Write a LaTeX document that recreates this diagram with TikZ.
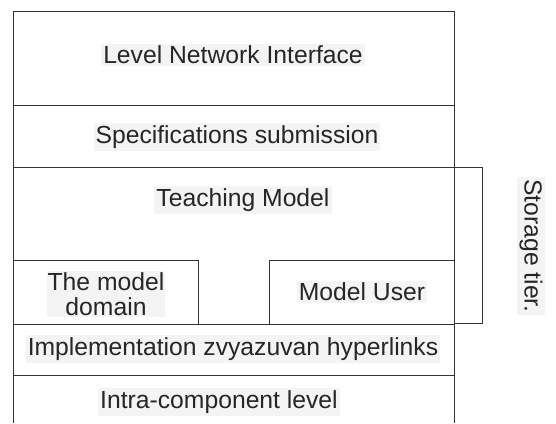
\documentclass[tikz,border=0pt]{standalone}
\usepackage{fontspec}
\setmainfont{Liberation Sans}
\definecolor{lbl}{HTML}{F4F4F4}
\definecolor{ln}{HTML}{333333}
\begin{document}
\begin{tikzpicture}[x=1pt,y=-1pt,
  lab/.style={fill=lbl,inner sep=2pt,font=\fontsize{24.7}{25}\selectfont,text=black!85},
  edge/.style={draw=ln,line width=1pt}]
\useasboundingbox (0,0) rectangle (556,423);
% outer frame (open at bottom)
\coordinate (tl) at (13,11);
\coordinate (tr) at (454,11);
\coordinate (bl) at (13,423);
\coordinate (br) at (454,423);
\draw[edge] (bl) -- (tl) -- (tr) -- (br);
% horizontal dividers
\draw[edge] (13,105) -- (454,105);
\draw[edge] (13,167) -- (454,167);
\draw[edge] (13,324) -- (454,324);
\draw[edge] (13,375) -- (454,375);
% sub boxes
\draw[edge] (13,260) -- (198,260) -- (198,324);
\draw[edge] (269,324) -- (269,260) -- (454,260);
% storage tier bracket
\draw[edge] (454,167) -- (482,167) -- (482,323) -- (454,323);
% labels
\node[lab] (l1) at (233,55) {Level Network Interface};
\node[lab] (l2) at (237,137) {Specifications submission};
\node[lab] (l3) at (243,200) {Teaching Model};
\node[lab,align=center,inner sep=1pt,font=\fontsize{24.7}{25}\selectfont] (l4) at (106,294) {The model\\domain};
\node[lab] (l5) at (362,292) {Model User};
\node[lab] (l6) at (233,349) {Implementation zvyazuvan hyperlinks};
\node[lab] (l7) at (219,402) {Intra-component level};
\node[lab,rotate=-90] (l8) at (531,246) {Storage tier.};
\end{tikzpicture}
\end{document}
